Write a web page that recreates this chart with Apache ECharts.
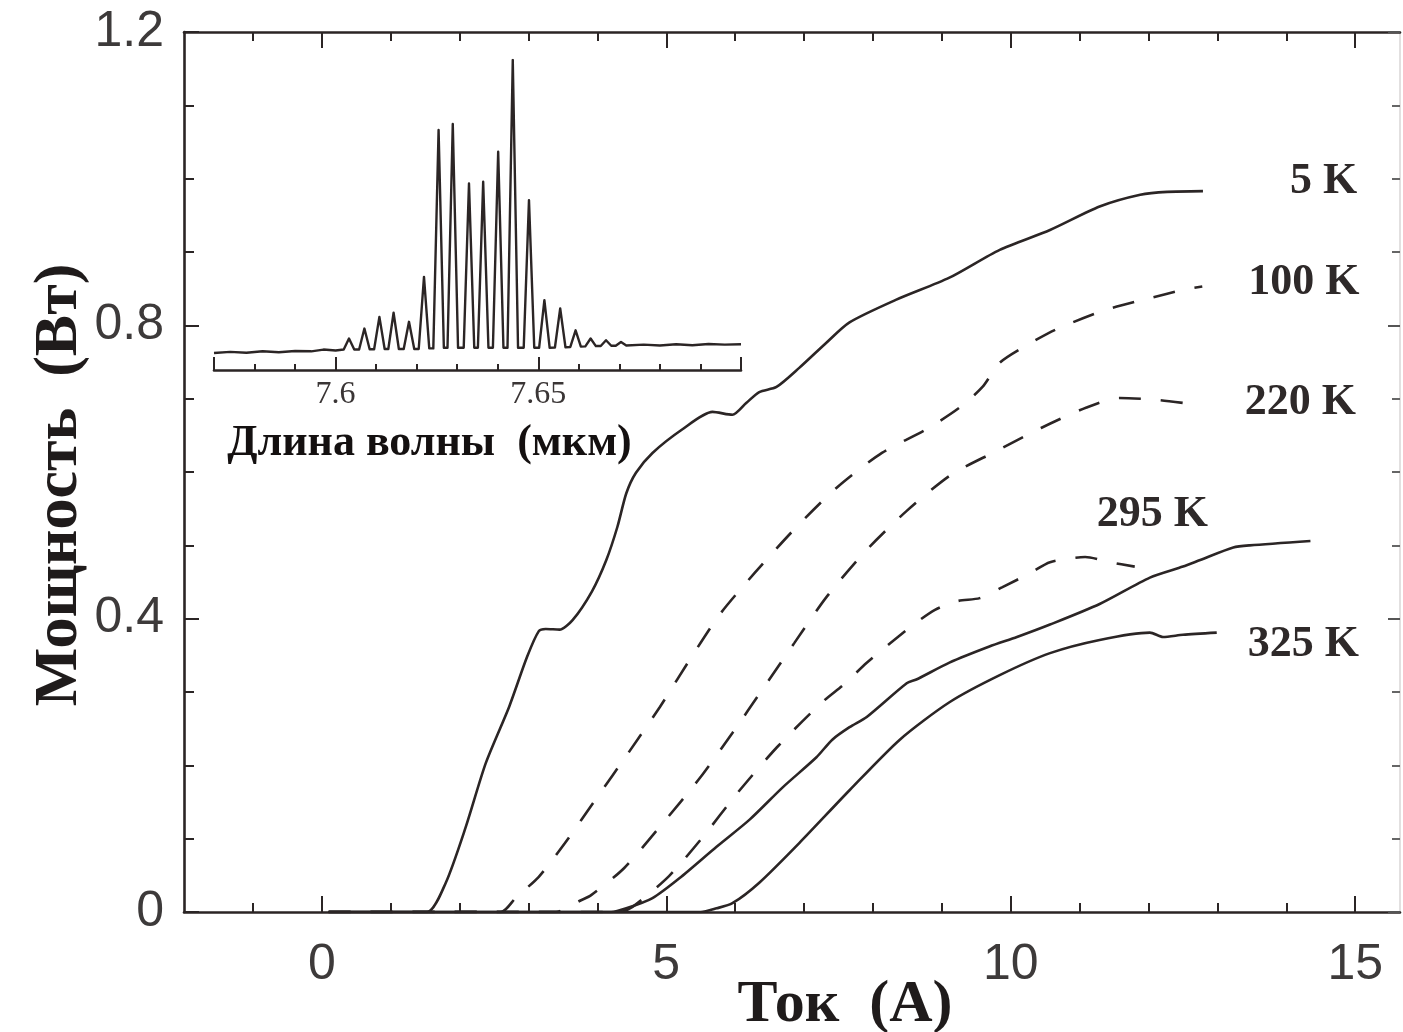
<!DOCTYPE html>
<html>
<head>
<meta charset="utf-8">
<script src="https://cdn.jsdelivr.net/npm/echarts@6/dist/echarts.min.js"></script>
<style>html,body{margin:0;padding:0;background:#fff}#chart{width:1403px;height:1032px}</style>
</head>
<body>
<div id="chart"></div>
<script>
// ---- axis ticks / labels ----
const xMajorTicks = [0, 5, 10, 15];
const xMinorTicks = [-1, 1, 2, 3, 4, 6, 7, 8, 9, 11, 12, 13, 14];
const yTickLabels = [0, 0.4, 0.8, 1.2];
const insetEndTicks = [7.57, 7.6, 7.65, 7.7];
const insetTickLabels = [7.6, 7.65];
const insetMinorTicks = [7.58, 7.59, 7.61, 7.62, 7.63, 7.64, 7.66, 7.67, 7.68, 7.69];

// ---- series names ----
const curveNames = ['5 K', '100 K', '220 K', '295 K', '295 K (сплошная)', '325 K'];

// ---- curves: [current A, power W] ----
const curve5K = [[0.1,0],[1.0,0],[1.53,0],[1.80,0.040],[2.09,0.116],[2.38,0.203],[2.72,0.280],[2.98,0.348],[3.15,0.383],[3.25,0.386],[3.45,0.385],[3.64,0.398],[3.92,0.437],[4.13,0.480],[4.29,0.525],[4.42,0.571],[4.56,0.599],[4.80,0.626],[5.23,0.658],[5.67,0.682],[5.96,0.678],[6.16,0.694],[6.35,0.709],[6.60,0.716],[6.93,0.742],[7.32,0.776],[7.66,0.804],[8.34,0.835],[9.11,0.865],[9.84,0.903],[10.57,0.930],[11.29,0.962],[11.88,0.978],[12.27,0.982],[12.79,0.983]];
const curve100K = [[0.1,0],[2.6,0],[2.82,0.020],[3.15,0.048],[3.53,0.094],[4.00,0.157],[4.45,0.217],[4.91,0.280],[5.32,0.341],[5.77,0.405],[6.28,0.462],[6.88,0.524],[7.49,0.580],[8.13,0.626],[8.79,0.659],[9.26,0.688],[9.59,0.716],[9.84,0.749],[10.16,0.769],[10.65,0.794],[11.34,0.820],[11.93,0.835],[12.53,0.849],[12.78,0.853]];
const curve220K = [[0.1,0],[3.4,0],[3.56,0.005],[3.74,0.015],[3.91,0.023],[4.39,0.060],[4.94,0.120],[5.49,0.183],[5.96,0.244],[6.40,0.304],[6.86,0.367],[7.33,0.430],[7.88,0.491],[8.49,0.547],[9.13,0.596],[9.78,0.628],[10.44,0.660],[11.10,0.688],[11.58,0.701],[12.17,0.698],[12.67,0.692]];
const curve295K = [[0.1,0],[4.3,0],[4.51,0.007],[5.04,0.049],[5.52,0.101],[6.03,0.162],[6.61,0.225],[7.25,0.285],[7.60,0.312],[7.91,0.340],[8.55,0.389],[8.90,0.412],[9.23,0.424],[9.55,0.428],[9.88,0.443],[10.28,0.462],[10.57,0.477],[11.08,0.484],[11.44,0.477],[11.80,0.471]];
const curve295KSolid = [[0.1,0],[4.2,0],[4.42,0.005],[4.80,0.019],[5.19,0.046],[5.73,0.089],[6.21,0.126],[6.69,0.170],[7.18,0.211],[7.41,0.235],[7.66,0.252],[7.91,0.266],[8.49,0.312],[8.63,0.317],[9.11,0.340],[9.69,0.362],[10.09,0.375],[10.57,0.392],[11.29,0.420],[12.02,0.456],[12.50,0.471],[12.75,0.480],[13.23,0.497],[13.47,0.500],[14.35,0.506]];
const curve325K = [[0.1,0],[5.5,0],[5.73,0.005],[5.96,0.012],[6.35,0.040],[6.93,0.094],[7.66,0.166],[8.39,0.235],[9.11,0.286],[9.84,0.323],[10.57,0.353],[11.29,0.371],[12.02,0.381],[12.21,0.375],[12.50,0.378],[12.99,0.381]];

// ---- inset spectrum: wavelength (µm), relative intensity ----
const spectrumWavelength = [7.570,7.574,7.578,7.582,7.586,7.590,7.594,7.597,7.600,
  7.6020,7.6033,7.6046, 7.6058,7.6071,7.6084, 7.6095,7.6108,7.6121, 7.6130,7.6143,7.6156,
  7.6168,7.6181,7.6194, 7.6205,7.6218,7.6231, 7.6241,7.6254,7.6267, 7.6276,7.6289,7.6302,
  7.6316,7.6329,7.6342, 7.6351,7.6364,7.6377, 7.6388,7.6401,7.6414, 7.6424,7.6437,7.6450,
  7.6464,7.6477,7.6490, 7.6502,7.6515,7.6528, 7.6541,7.6554,7.6567, 7.6579,7.6592,7.6605,
  7.6616,7.6629,7.6642, 7.6654,7.6667,7.6680, 7.6691,7.6704,7.6717,
  7.676,7.680,7.684,7.688,7.692,7.696,7.700];
const spectrumIntensity = [-0.004,0.000,-0.003,0.002,-0.001,0.003,0.002,0.008,0.005,
  0.008,0.046,0.008, 0.008,0.080,0.009, 0.009,0.120,0.010, 0.010,0.134,0.010,
  0.010,0.103,0.010, 0.010,0.257,0.012, 0.012,0.760,0.014, 0.014,0.781,0.014,
  0.014,0.577,0.014, 0.014,0.583,0.014, 0.014,0.686,0.014, 0.014,1.000,0.014,
  0.014,0.520,0.014, 0.014,0.177,0.014, 0.015,0.149,0.016, 0.017,0.074,0.018,
  0.019,0.046,0.020, 0.020,0.040,0.021, 0.021,0.034,0.022,
  0.025,0.022,0.026,0.023,0.027,0.025,0.026];

const ink = '#2b2525';
const sans = '"Liberation Sans", Arial, sans-serif';
const serif = '"Liberation Serif", "Times New Roman", serif';

function curve(name, data, dashed, offset) {
  return {
    type: 'line', name: name, data: data, xAxisIndex: 0, yAxisIndex: 0,
    symbol: 'none', smooth: 0.25, silent: true,
    lineStyle: { color: ink, width: 2.6, type: dashed ? [22, 20] : 'solid' },
    endLabel: offset ? {
      show: true, formatter: name, offset: offset, distance: 0,
      fontFamily: serif, fontWeight: 'bold', fontSize: 44, color: '#2e2929'
    } : { show: false }
  };
}

const axisLineStyle = { color: ink, width: 2.6 };

const option = {
  animation: false,
  backgroundColor: '#ffffff',
  grid: [
    { left: 184, top: 32, right: 3, bottom: 120, containLabel: false, outerBoundsMode: 'none' },
    { left: 214, top: 60, width: 527, height: 310, containLabel: false, outerBoundsMode: 'none' }
  ],
  xAxis: [
    { gridIndex: 0, type: 'value', min: -2, max: 15.65, position: 'bottom',
      axisLine: { show: true, onZero: false, lineStyle: axisLineStyle },
      axisTick: { show: true, inside: true, length: 16, customValues: xMajorTicks, lineStyle: { color: ink, width: 2 } },
      axisLabel: { show: true, customValues: xMajorTicks, margin: 28, fontFamily: sans, fontSize: 50, color: '#3d3a3a' },
      splitLine: { show: false },
      name: 'Ток  (A)', nameLocation: 'middle', nameGap: 63, nameMoveOverlap: false,
      nameTextStyle: { fontFamily: serif, fontWeight: 'bold', fontSize: 60, color: '#1f1b1b', padding: [0, 0, 0, 106] } },
    { gridIndex: 0, type: 'value', min: -2, max: 15.65, position: 'bottom',
      axisLine: { show: false, onZero: false },
      axisTick: { show: true, inside: true, length: 9, customValues: xMinorTicks, lineStyle: { color: ink, width: 2 } },
      axisLabel: { show: false }, splitLine: { show: false } },
    { gridIndex: 0, type: 'value', min: -2, max: 15.65, position: 'top',
      axisLine: { show: true, onZero: false, lineStyle: axisLineStyle },
      axisTick: { show: true, inside: true, length: 16, customValues: xMajorTicks, lineStyle: { color: ink, width: 2 } },
      axisLabel: { show: false }, splitLine: { show: false } },
    { gridIndex: 0, type: 'value', min: -2, max: 15.65, position: 'top',
      axisLine: { show: false, onZero: false },
      axisTick: { show: true, inside: true, length: 9, customValues: xMinorTicks, lineStyle: { color: ink, width: 2 } },
      axisLabel: { show: false }, splitLine: { show: false } },
    { gridIndex: 1, type: 'value', min: 7.57, max: 7.7, position: 'bottom',
      axisLine: { show: true, onZero: false, lineStyle: { color: ink, width: 2.6 } },
      axisTick: { show: true, inside: true, length: 13, customValues: insetEndTicks, lineStyle: { color: ink, width: 2 } },
      axisLabel: { show: true, customValues: insetTickLabels, margin: 9, fontFamily: serif, fontSize: 32, color: '#3a3535' },
      splitLine: { show: false },
      name: 'Длина волны  (мкм)', nameLocation: 'middle', nameGap: 52,
      nameTextStyle: { fontFamily: serif, fontWeight: 'bold', fontSize: 44, color: '#141010', padding: [0, 96, 0, 0] } },
    { gridIndex: 1, type: 'value', min: 7.57, max: 7.7, position: 'bottom',
      axisLine: { show: false, onZero: false },
      axisTick: { show: true, inside: true, length: 6, customValues: insetMinorTicks, lineStyle: { color: ink, width: 2 } },
      axisLabel: { show: false }, splitLine: { show: false } }
  ],
  yAxis: [
    { gridIndex: 0, type: 'value', min: 0, max: 1.2, interval: 0.4, position: 'left',
      axisLine: { show: true, onZero: false, lineStyle: axisLineStyle },
      axisTick: { show: true, inside: true, length: 15, lineStyle: { color: ink, width: 2 } },
      minorTick: { show: true, splitNumber: 4, length: 10, lineStyle: { color: ink, width: 2 } },
      axisLabel: { show: true, margin: 20, fontFamily: sans, fontSize: 50, color: '#3d3a3a',
        formatter: function (v) { return yTickLabels.indexOf(v) >= 0 ? String(v) : ''; } },
      splitLine: { show: false }, minorSplitLine: { show: false },
      name: 'Мощность  (Вт)', nameLocation: 'middle', nameGap: 93, nameMoveOverlap: false,
      nameTextStyle: { fontFamily: serif, fontWeight: 'bold', fontSize: 62, color: '#1f1b1b', padding: [0, 26, 0, 0] } },
    { gridIndex: 0, type: 'value', min: 0, max: 1.2, interval: 0.4, position: 'right',
      axisLine: { show: true, onZero: false, lineStyle: { color: '#d8d6d6', width: 1.5 } },
      axisTick: { show: true, inside: true, length: 12, lineStyle: { color: '#555', width: 2 } },
      minorTick: { show: true, splitNumber: 4, length: 8, lineStyle: { color: '#666', width: 2 } },
      axisLabel: { show: false }, splitLine: { show: false } },
    { gridIndex: 1, type: 'value', min: -0.062, max: 1.0, show: false }
  ],
  series: [
    curve(curveNames[0], curve5K, false, [87, -9]),
    curve(curveNames[1], curve100K, true, [46, -4]),
    curve(curveNames[2], curve220K, true, [50, -2]),
    curve(curveNames[3], curve295K, true, [-38, -52]),
    curve(curveNames[4], curve295KSolid, false, null),
    curve(curveNames[5], curve325K, false, [31, 12]),
    { type: 'line', name: 'Спектр', xAxisIndex: 4, yAxisIndex: 2, symbol: 'none', silent: true,
      data: spectrumWavelength.map(function (w, i) { return [w, spectrumIntensity[i]]; }),
      lineStyle: { color: ink, width: 2.4, join: 'round' } }
  ]
};

const chart = echarts.init(document.getElementById('chart'), null, { renderer: 'canvas' });
chart.setOption(option);
</script>
</body>
</html>
